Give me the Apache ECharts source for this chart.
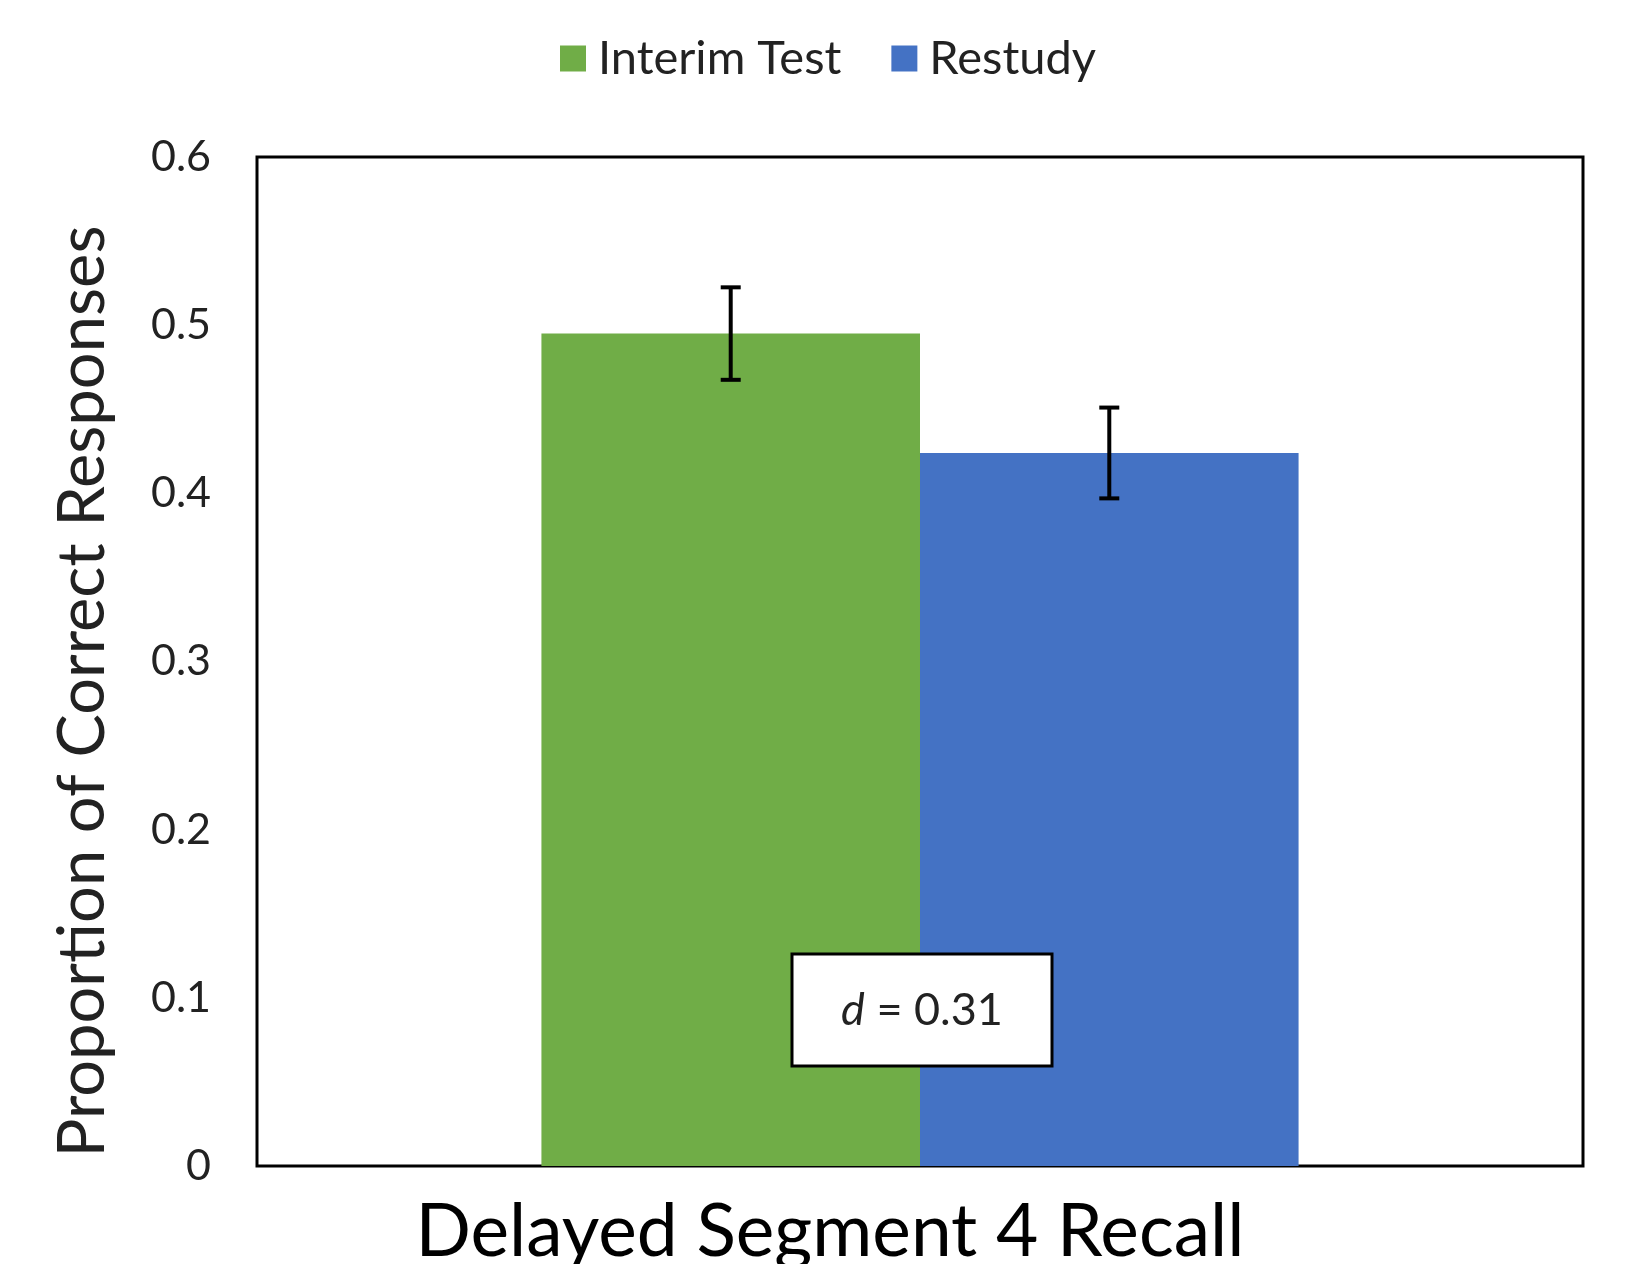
<!DOCTYPE html>
<html>
<head>
<meta charset="utf-8">
<script src="https://cdn.jsdelivr.net/npm/echarts@6/dist/echarts.min.js"></script>
<style>html,body{margin:0;padding:0;background:#fff}#c{width:1629px;height:1264px}</style>
</head>
<body>
<div id="c"></div>
<script>
const categories = ['Delayed Segment 4 Recall'];
const seriesNames = ['Interim Test', 'Restudy'];
const interimValues = [0.495];
const restudyValues = [0.424];
const interimErr = [0.0275];
const restudyErr = [0.027];
const yTicks = [0, 0.1, 0.2, 0.3, 0.4, 0.5, 0.6];
const effectLabel = '0.31';

const FONT = 'Lato';
const BAR_FRAC = 0.2855;

const chart = echarts.init(document.getElementById('c'));

function errItem(values, errs, side) {
  return function (params, api) {
    const i = params.dataIndex;
    const v = values[i], e = errs[i];
    const band = api.size([1, 0])[0];
    const off = side * band * BAR_FRAC / 2;
    const top = api.coord([i, v + e]);
    const bot = api.coord([i, v - e]);
    const x = top[0] + off;
    const cap = 10;
    const st = { stroke: '#000', lineWidth: 4 };
    return {
      type: 'group',
      children: [
        { type: 'line', shape: { x1: x, y1: top[1], x2: x, y2: bot[1] }, style: st },
        { type: 'line', shape: { x1: x - cap, y1: top[1], x2: x + cap, y2: top[1] }, style: st },
        { type: 'line', shape: { x1: x - cap, y1: bot[1], x2: x + cap, y2: bot[1] }, style: st }
      ]
    };
  };
}

chart.setOption({
  animation: false,
  textStyle: { fontFamily: FONT },
  legend: {
    data: seriesNames,
    left: 555,
    top: 30,
    itemWidth: 26,
    itemHeight: 26,
    itemGap: 50,
    icon: 'rect',
    textStyle: { fontSize: 47, color: '#222', fontFamily: FONT, padding: [0, 0, 0, 7] }
  },
  grid: {
    left: 257, right: 46, top: 157, bottom: 98,
    outerBoundsMode: 'none', containLabel: false,
    show: true, borderColor: '#000', borderWidth: 3, backgroundColor: '#fff'
  },
  xAxis: {
    type: 'category',
    data: categories,
    axisLine: { show: false },
    axisTick: { show: false },
    axisLabel: {
      fontSize: 73, color: '#000', fontFamily: FONT, margin: 30,
      padding: [0, 180, 0, 0]
    }
  },
  yAxis: {
    type: 'value',
    min: 0, max: 0.6, interval: 0.1,
    splitLine: { show: false },
    axisLine: { show: false },
    axisTick: { show: false },
    axisLabel: {
      fontSize: 43, color: '#222', fontFamily: FONT, margin: 46,
      formatter: function (v) {
        const t = yTicks.find(function (k) { return Math.abs(k - v) < 1e-9; });
        return t === undefined ? '' : String(t);
      }
    },
    name: 'Proportion of Correct Responses',
    nameLocation: 'middle',
    nameGap: 141,
    nameTextStyle: { fontSize: 65, color: '#222', fontFamily: FONT, padding: [0, 60, 0, 0] }
  },
  series: [
    {
      name: seriesNames[0], type: 'bar', data: interimValues,
      barWidth: (BAR_FRAC * 100) + '%', barGap: '0%',
      itemStyle: { color: '#70AD47' }
    },
    {
      name: seriesNames[1], type: 'bar', data: restudyValues,
      barWidth: (BAR_FRAC * 100) + '%', barGap: '0%',
      itemStyle: { color: '#4472C4' }
    },
    {
      type: 'custom', data: interimValues.map(function (v, i) { return [i, v]; }),
      renderItem: errItem(interimValues, interimErr, -1), z: 5, silent: true
    },
    {
      type: 'custom', data: restudyValues.map(function (v, i) { return [i, v]; }),
      renderItem: errItem(restudyValues, restudyErr, 1), z: 5, silent: true
    }
  ],
  graphic: {
    elements: [
      {
        type: 'rect', z: 100,
        shape: { x: 792, y: 954, width: 260, height: 112 },
        style: { fill: '#fff', stroke: '#000', lineWidth: 3 }
      },
      {
        type: 'text', z: 101, x: 922, y: 1010,
        style: {
          text: '{i|d}{n| = ' + effectLabel + '}',
          align: 'center', verticalAlign: 'middle',
          rich: {
            i: { fontStyle: 'italic', fontSize: 45, fontFamily: FONT, fill: '#222' },
            n: { fontSize: 45, fontFamily: FONT, fill: '#222' }
          }
        }
      }
    ]
  }
});
</script>
</body>
</html>
